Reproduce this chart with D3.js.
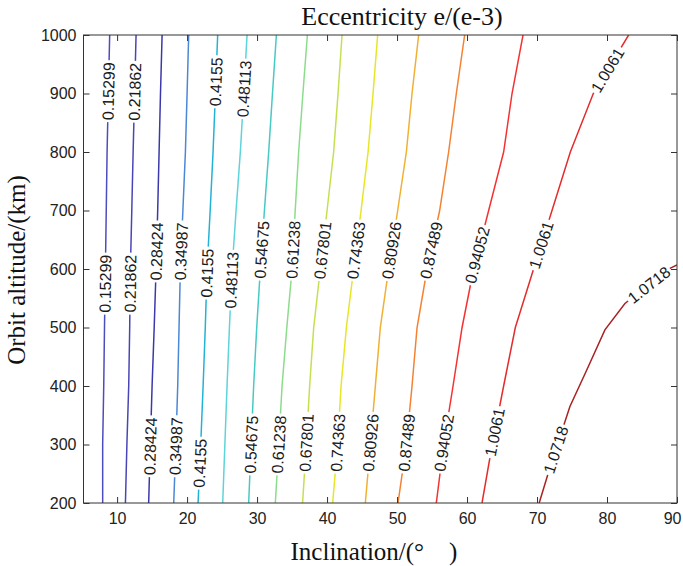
<!DOCTYPE html>
<html><head><meta charset="utf-8">
<script src="https://cdn.jsdelivr.net/npm/d3@7"></script>
<style>body{margin:0;background:#fff}</style>
</head><body><svg id="c" width="683" height="566"></svg>
<script>
// ---------- data ----------
const inclinationTicks = [10, 20, 30, 40, 50, 60, 70, 80, 90];
const altitudeTicks = [200, 300, 400, 500, 600, 700, 800, 900, 1000];
const levels = [0.15299, 0.21862, 0.28424, 0.34987, 0.4155, 0.48113, 0.54675, 0.61238, 0.67801, 0.74363, 0.80926, 0.87489, 0.94052, 1.0061, 1.0718];
const levelText = ["0.15299", "0.21862", "0.28424", "0.34987", "0.4155", "0.48113", "0.54675", "0.61238", "0.67801", "0.74363", "0.80926", "0.87489", "0.94052", "1.0061", "1.0718"];
// contour lines: [inclination, altitude]
const contour01 = [[7.94,200],[7.94,300],[8.09,400],[8.2,500],[8.33,600],[8.45,700],[8.57,800],[8.75,900],[8.94,1000]];
const contour02 = [[11.19,200],[11.4,300],[11.66,400],[11.8,500],[11.9,600],[12.1,700],[12.29,800],[12.5,900],[12.71,1000]];
const contour03 = [[14.51,200],[14.75,300],[15.0,400],[15.3,500],[15.57,600],[15.8,700],[16.0,800],[16.2,900],[16.43,1000]];
const contour04 = [[18.09,200],[18.4,300],[18.66,400],[18.85,500],[19.04,600],[19.4,700],[19.76,800],[20.0,900],[20.23,1000]];
const contour05 = [[21.57,200],[21.95,300],[22.29,400],[22.6,500],[22.86,600],[23.3,700],[23.71,800],[24.05,900],[24.37,1000]];
const contour06 = [[25.09,200],[25.4,300],[25.71,400],[26.05,500],[26.43,600],[27.0,700],[27.61,800],[28.1,900],[28.57,1000]];
const contour07 = [[28.8,200],[29.15,300],[29.51,400],[29.95,500],[30.47,600],[31.05,700],[31.66,800],[32.2,900],[32.76,1000]];
const contour08 = [[32.61,200],[33.1,300],[33.57,400],[34.25,500],[35.0,600],[35.45,700],[35.94,800],[36.55,900],[37.19,1000]];
const contour09 = [[36.5,200],[37.04,300],[37.51,400],[38.09,500],[39.04,600],[40.0,700],[40.94,800],[41.57,900],[42.14,1000]];
const contour10 = [[40.8,200],[41.51,300],[42.0,400],[42.76,500],[43.8,600],[44.86,700],[45.86,800],[46.57,900],[47.23,1000]];
const contour11 = [[45.47,200],[46.19,300],[46.9,400],[47.61,500],[48.8,600],[50.09,700],[51.33,800],[52.14,900],[53.09,1000]];
const contour12 = [[50.14,200],[51.33,300],[52.14,400],[52.86,500],[54.29,600],[56.09,700],[57.37,800],[58.47,900],[59.66,1000]];
const contour13 = [[55.61,200],[56.66,300],[58.0,400],[59.29,500],[60.94,600],[63.09,700],[65.23,800],[66.43,900],[68.0,1000]];
const contour14 = [[62.14,200],[63.6,300],[65.23,400],[66.9,500],[69.51,600],[72.14,700],[74.76,800],[78.04,900],[83.09,1000]];
const contour15 = [[70.31,200],[71.6,251],[73.74,330],[74.7,365],[77.09,427],[79.7,496],[82.56,541],[89.0,601],[90,607]];
const contourLines = [contour01, contour02, contour03, contour04, contour05, contour06, contour07, contour08, contour09, contour10, contour11, contour12, contour13, contour14, contour15];
// inline labels: which level, at which altitude
const labelLevel = [0,1,4,5,13, 0,1,2,3,4,5,6,7,8,9,10,11,12,13,14, 2,3,4,6,7,8,9,10,11,12,13,14];
const labelAlt   = [904,903,920,908,940, 575,575,630,630,593,581,633,633,632,632,632,632,624,641,573, 297,297,268,300,300,303,303,303,303,303,321,291];

// ---------- style ----------
const lineColors = ["#4d4cbc","#4846b6","#3a38aa","#4a88d6","#22b2d6","#5cd4da","#46cac4","#8cdc8c","#c4e050","#e6e626","#f0b032","#f48232","#f43232","#e42c2c","#a82222"];
const W = 683, H = 566;
const M = {left: 83.5, right: 677, top: 35, bottom: 503};
const SANS = "'Liberation Sans', Arial, Helvetica, sans-serif";
const SERIF = "'Liberation Serif', 'Times New Roman', serif";

const x = d3.scaleLinear().domain([5.2, 90]).range([M.left, M.right]);
const y = d3.scaleLinear().domain([200, 1000]).range([M.bottom, M.top]);

const svg = d3.select("#c");
svg.append("rect").attr("width", W).attr("height", H).attr("fill", "#fff");
svg.append("defs").append("clipPath").attr("id", "clip").append("rect")
  .attr("x", M.left).attr("y", M.top).attr("width", M.right - M.left).attr("height", M.bottom - M.top);

const line = d3.line().x(d => x(d[0])).y(d => y(d[1]));
const gl = svg.append("g").attr("clip-path", "url(#clip)");
contourLines.forEach((pts, i) => {
  gl.append("path").attr("d", line(pts)).attr("fill", "none")
    .attr("stroke", lineColors[i]).attr("stroke-width", 1.5);
});

function locate(pts, alt) {
  for (let k = 0; k < pts.length - 1; k++) {
    const a = pts[k], b = pts[k + 1];
    if (alt >= a[1] && alt <= b[1]) {
      const t = (alt - a[1]) / (b[1] - a[1]);
      const px = x(a[0] + t * (b[0] - a[0])), py = y(alt);
      const ang = Math.atan2(y(b[1]) - y(a[1]), x(b[0]) - x(a[0])) * 180 / Math.PI;
      return [px, py, ang];
    }
  }
  return null;
}

const glab = svg.append("g");
labelLevel.forEach((lv, j) => {
  const p = locate(contourLines[lv], labelAlt[j]);
  if (!p) return;
  const g = glab.append("g").attr("transform", `translate(${p[0]},${p[1]}) rotate(${p[2]})`);
  const r = g.append("rect").attr("fill", "#fff");
  const t = g.append("text").text(levelText[lv])
    .attr("text-anchor", "middle").attr("dy", "0.36em")
    .attr("font-family", SANS).attr("font-size", 16).attr("fill", "#1a1a1a");
  const len = t.node().getComputedTextLength();
  r.attr("x", -len / 2 - 2).attr("y", -7).attr("width", len + 4).attr("height", 14);
});

// ---------- axes ----------
function styleAxis(g, showText) {
  g.select(".domain").remove();
  g.selectAll(".tick line").attr("stroke", "#333").attr("stroke-width", 1);
  g.selectAll(".tick text").attr("font-family", SANS).attr("font-size", 16).attr("fill", "#222");
  if (!showText) g.selectAll(".tick text").remove();
}
const fmt = d3.format("d");
svg.append("g").attr("transform", `translate(0,${M.bottom})`)
  .call(d3.axisBottom(x).tickValues(inclinationTicks).tickFormat(fmt).tickSize(-6).tickPadding(10))
  .call(g => styleAxis(g, true))
  .call(g => g.selectAll(".tick text").filter(d => d === 90).attr("text-anchor", "end").attr("x", 4));
svg.append("g").attr("transform", `translate(0,${M.top})`)
  .call(d3.axisTop(x).tickValues(inclinationTicks).tickSize(-6))
  .call(g => styleAxis(g, false));
svg.append("g").attr("transform", `translate(${M.left},0)`)
  .call(d3.axisLeft(y).tickValues(altitudeTicks).tickFormat(fmt).tickSize(-6).tickPadding(7))
  .call(g => styleAxis(g, true));
svg.append("g").attr("transform", `translate(${M.right},0)`)
  .call(d3.axisRight(y).tickValues(altitudeTicks).tickSize(-6))
  .call(g => styleAxis(g, false));

svg.append("rect").attr("x", M.left).attr("y", M.top)
  .attr("width", M.right - M.left).attr("height", M.bottom - M.top)
  .attr("fill", "none").attr("stroke", "#333").attr("stroke-width", 1);

// ---------- titles ----------
svg.append("text").text("Eccentricity e/(e-3)")
  .attr("x", 402).attr("y", 25).attr("text-anchor", "middle")
  .attr("font-family", SERIF).attr("font-size", 26).attr("fill", "#111");
svg.append("text").text("Inclination/(°\u2003)")
  .attr("x", 374).attr("y", 560).attr("text-anchor", "middle")
  .attr("font-family", SERIF).attr("font-size", 25).attr("fill", "#111");
svg.append("text").text("Orbit altitude/(km)")
  .attr("transform", "translate(25,270) rotate(-90)").attr("text-anchor", "middle")
  .attr("font-family", SERIF).attr("font-size", 25).attr("fill", "#111");
</script>
</body></html>
